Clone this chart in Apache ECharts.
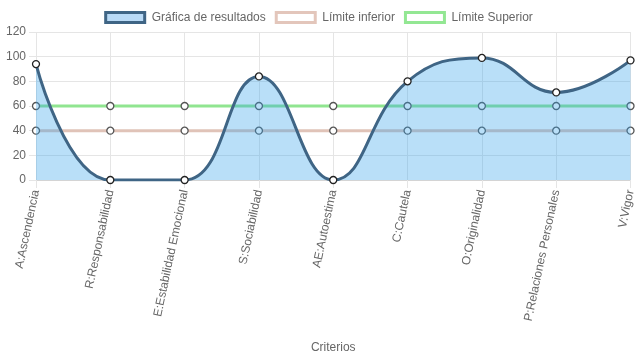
<!DOCTYPE html>
<html><head><meta charset="utf-8">
<script src="https://cdn.jsdelivr.net/npm/echarts@6/dist/echarts.min.js"></script>
<style>html,body{margin:0;padding:0;background:#fff}#c{width:637px;height:359px}</style>
</head><body><div id="c"></div>
<script>
const categories = ['A:Ascendencia','R:Responsabilidad','E:Estabilidad Emocional','S:Sociabilidad','AE:Autoestima','C:Cautela','O:Originalidad','P:Relaciones Personales','V:Vigor'];
const resultados = [94, 0, 0, 84, 0, 80, 99, 71, 97];
const limiteInferior = [40, 40, 40, 40, 40, 40, 40, 40, 40];
const limiteSuperior = [60, 60, 60, 60, 60, 60, 60, 60, 60];
const seriesNames = ['Gráfica de resultados', 'Límite inferior', 'Límite Superior'];
const axisName = 'Criterios';

const font = 'Liberation Sans, Arial, Helvetica, sans-serif';
const chart = echarts.init(document.getElementById('c'));
chart.setOption({
  animation: false,
  textStyle: { fontFamily: font },
  legend: {
    top: 6, left: 'center', itemWidth: 39, itemHeight: 10, itemGap: 9,
    textStyle: { color: '#666', fontSize: 12, fontFamily: font, padding: [0, 0, 0, 2] },
    data: [
      { name: seriesNames[0], icon: 'rect', itemStyle: { color: '#b9daf6', borderColor: '#3f6585', borderWidth: 3 } },
      { name: seriesNames[1], icon: 'rect', itemStyle: { color: '#fff', borderColor: '#e3c6bb', borderWidth: 3 } },
      { name: seriesNames[2], icon: 'rect', itemStyle: { color: '#fff', borderColor: '#93e793', borderWidth: 3 } }
    ]
  },
  grid: { left: 36, right: 4, top: 32, bottom: 179, containLabel: false },
  xAxis: {
    type: 'category', boundaryGap: false, data: categories,
    name: axisName, nameLocation: 'middle', nameGap: 162,
    nameTextStyle: { color: '#666', fontSize: 12, fontFamily: font },
    axisLine: { show: true, lineStyle: { color: '#d4d4d4', width: 1 } },
    axisTick: { show: true, length: 8, lineStyle: { color: '#e5e5e5' } },
    axisLabel: { rotate: 78, color: '#666', fontSize: 12, margin: 10, fontFamily: font, interval: 0 },
    splitLine: { show: true, lineStyle: { color: '#e5e5e5' } }
  },
  yAxis: {
    type: 'value', min: 0, max: 120, interval: 20,
    axisLine: { show: false },
    axisTick: { show: true, length: 7, lineStyle: { color: '#e5e5e5' } },
    axisLabel: { color: '#666', fontSize: 12, margin: 10, fontFamily: font },
    splitLine: { show: true, lineStyle: { color: '#e5e5e5' } }
  },
  series: [
    {
      name: seriesNames[1], type: 'line', data: limiteInferior, z: 2,
      symbol: 'circle', symbolSize: 7,
      lineStyle: { color: '#e0c3b8', width: 3 },
      itemStyle: { color: '#fff', borderColor: '#555', borderWidth: 1.3 }
    },
    {
      name: seriesNames[2], type: 'line', data: limiteSuperior, z: 2,
      symbol: 'circle', symbolSize: 7,
      lineStyle: { color: '#90e590', width: 3 },
      itemStyle: { color: '#fff', borderColor: '#555', borderWidth: 1.3 }
    },
    {
      name: seriesNames[0], type: 'line', data: resultados, z: 3, smooth: 0.45,
      symbol: 'circle', symbolSize: 7,
      lineStyle: { color: '#3f6585', width: 3 },
      itemStyle: { color: '#fff', borderColor: '#222', borderWidth: 1.3 },
      areaStyle: { color: 'rgba(54,162,235,0.35)', opacity: 1 }
    }
  ]
});
</script></body></html>
